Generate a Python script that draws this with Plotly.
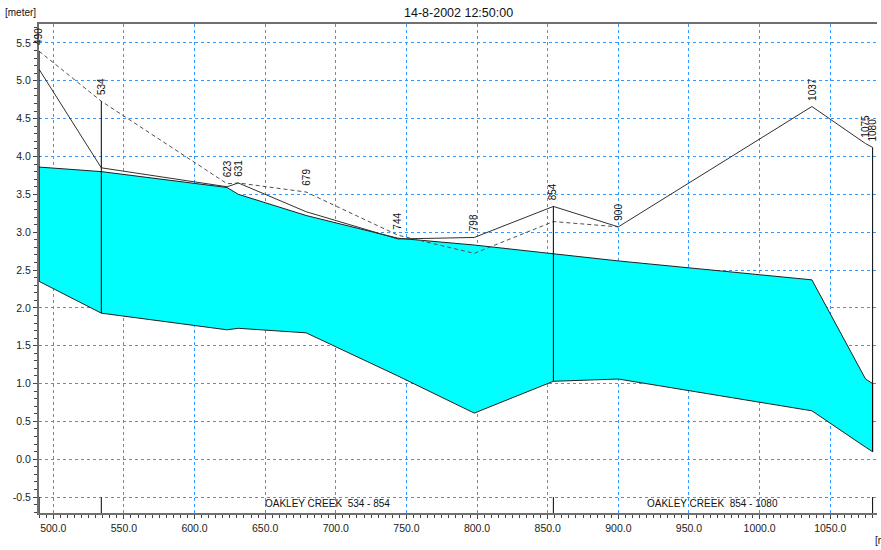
import plotly.graph_objects as go

# ---------------- data ----------------
chainage = [490, 534, 623, 631, 679, 744, 798, 854, 900, 1037, 1075, 1080]
chainage_labels = ["490", "534", "623", "631", "679", "744", "798", "854", "900", "1037", "1075", "1080"]
water_level = [3.86, 3.80, 3.59, 3.50, 3.22, 2.92, 2.83, 2.72, 2.62, 2.37, 1.06, 1.00]
bed_level = [2.35, 1.93, 1.71, 1.73, 1.67, 1.10, 0.61, 1.03, 1.06, 0.64, 0.16, 0.10]
bank_level = [5.15, 3.85, 3.60, 3.65, 3.27, 2.91, 2.93, 3.34, 3.07, 4.66, 4.17, 4.12]
dashed_chainage = [490, 534, 623, 631, 679, 744, 798, 854, 900]
dashed_level = [5.39, 4.73, 3.64, 3.65, 3.53, 2.96, 2.72, 3.14, 3.07]

branch_ends = [490, 534, 854, 1080]
branch_spans = [(534, 854), (854, 1080)]
branch_names = ["OAKLEY CREEK  534 - 854", "OAKLEY CREEK  854 - 1080"]

x_tick_values = [500, 550, 600, 650, 700, 750, 800, 850, 900, 950, 1000, 1050]
x_tick_labels = ["500.0", "550.0", "600.0", "650.0", "700.0", "750.0", "800.0",
                 "850.0", "900.0", "950.0", "1000.0", "1050.0"]
y_tick_values = [-0.5, 0.0, 0.5, 1.0, 1.5, 2.0, 2.5, 3.0, 3.5, 4.0, 4.5, 5.0, 5.5]
y_tick_labels = ["-0.5", "0.0", "0.5", "1.0", "1.5", "2.0", "2.5", "3.0", "3.5",
                 "4.0", "4.5", "5.0", "5.5"]
title_text = "14-8-2002 12:50:00"
unit_text = "[meter]"

X_RANGE = [489.9, 1083.1]
Y_RANGE = [-0.71, 5.75]
BRANCH_BAND_TOP = -0.5

FONT = "Liberation Sans, Arial, sans-serif"

fig = go.Figure()

# water body between bed and water surface
fig.add_trace(go.Scatter(
    x=chainage + chainage[::-1],
    y=water_level + bed_level[::-1],
    fill="toself", fillcolor="#00FFFF",
    line=dict(color="#202020", width=1),
    mode="lines", hoverinfo="skip", showlegend=False))

# dashed level line
fig.add_trace(go.Scatter(
    x=dashed_chainage, y=dashed_level, mode="lines",
    line=dict(color="#505050", width=1, dash="4px,3px"),
    showlegend=False))

# solid bank line
fig.add_trace(go.Scatter(
    x=chainage, y=bank_level, mode="lines",
    line=dict(color="#303030", width=1),
    showlegend=False))

# helper: highest level at each chainage
dashed_map = dict(zip(dashed_chainage, dashed_level))
top_level = []
for c, b, w in zip(chainage, bank_level, water_level):
    vals = [b, w]
    if c in dashed_map:
        vals.append(dashed_map[c])
    top_level.append(max(vals))
top_map = dict(zip(chainage, top_level))
bed_map = dict(zip(chainage, bed_level))

# vertical lines at branch ends
vx, vy = [], []
for c in branch_ends:
    vx += [c, c, None, c, c, None]
    vy += [bed_map[c], top_map[c], None, Y_RANGE[0], BRANCH_BAND_TOP, None]
fig.add_trace(go.Scatter(x=vx, y=vy, mode="lines",
                         line=dict(color="black", width=1),
                         showlegend=False, hoverinfo="skip", cliponaxis=False))

annotations = []
# chainage labels
for c, lab, t in zip(chainage, chainage_labels, top_level):
    annotations.append(dict(
        x=c, y=t, text=lab, showarrow=False, textangle=-90,
        xanchor="center", yanchor="bottom", yshift=4,
        font=dict(family=FONT, size=10, color="#111")))

# branch names
for (a, b), name in zip(branch_spans, branch_names):
    annotations.append(dict(
        x=(a + b) / 2, y=-0.58, text=name, showarrow=False,
        xanchor="center", yanchor="middle",
        font=dict(family=FONT, size=10, color="#111")))

# title
annotations.append(dict(
    xref="paper", yref="paper", x=0.5, y=1, yshift=11, text=title_text,
    showarrow=False, xanchor="center", yanchor="middle",
    font=dict(family=FONT, size=12.5, color="#111")))
# unit labels
annotations.append(dict(
    xref="paper", yref="paper", x=0, y=1, xshift=-1, yshift=12, text=unit_text,
    showarrow=False, xanchor="right", yanchor="middle",
    font=dict(family=FONT, size=10, color="#111")))
annotations.append(dict(
    xref="paper", yref="paper", x=1, y=0, xshift=-4, yshift=-27, text=unit_text,
    showarrow=False, xanchor="left", yanchor="middle",
    font=dict(family=FONT, size=10, color="#111")))

grid_color = "#3399FF"

fig.update_layout(
    width=881, height=550,
    margin=dict(l=39, r=4, t=24, b=37, autoexpand=False),
    paper_bgcolor="white", plot_bgcolor="white",
    showlegend=False,
    annotations=annotations,
    font=dict(family=FONT, size=10.5, color="#222"),
    xaxis=dict(
        range=X_RANGE, tickmode="array", tickvals=x_tick_values, ticktext=x_tick_labels,
        ticks="outside", ticklen=4, tickcolor="#444", tickwidth=1,
        showline=True, linecolor="#707070", linewidth=2, mirror=True,
        showgrid=True, gridcolor=grid_color, griddash="3px,3px", gridwidth=1,
        zeroline=False, automargin=False,
        minor=dict(tickmode="linear", tick0=0, dtick=5, ticks="outside", ticklen=3,
                   tickcolor="#444", showgrid=False),
        tickfont=dict(family=FONT, size=10.5, color="#222"),
    ),
    yaxis=dict(
        range=Y_RANGE, tickmode="array", tickvals=y_tick_values, ticktext=y_tick_labels,
        ticks="outside", ticklen=4, tickcolor="#444", tickwidth=1,
        showline=True, linecolor="#707070", linewidth=2, mirror=False,
        showgrid=True, gridcolor=grid_color, griddash="3px,3px", gridwidth=1,
        zeroline=False, automargin=False,
        minor=dict(tickmode="linear", tick0=0, dtick=0.1, ticks="outside", ticklen=3,
                   tickcolor="#444", showgrid=False),
        tickfont=dict(family=FONT, size=10.5, color="#222"),
    ),
)

fig.write_html("out.html",
               config={"displayModeBar": False},
               post_script="document.body.style.margin='0';document.body.style.overflow='hidden';")
